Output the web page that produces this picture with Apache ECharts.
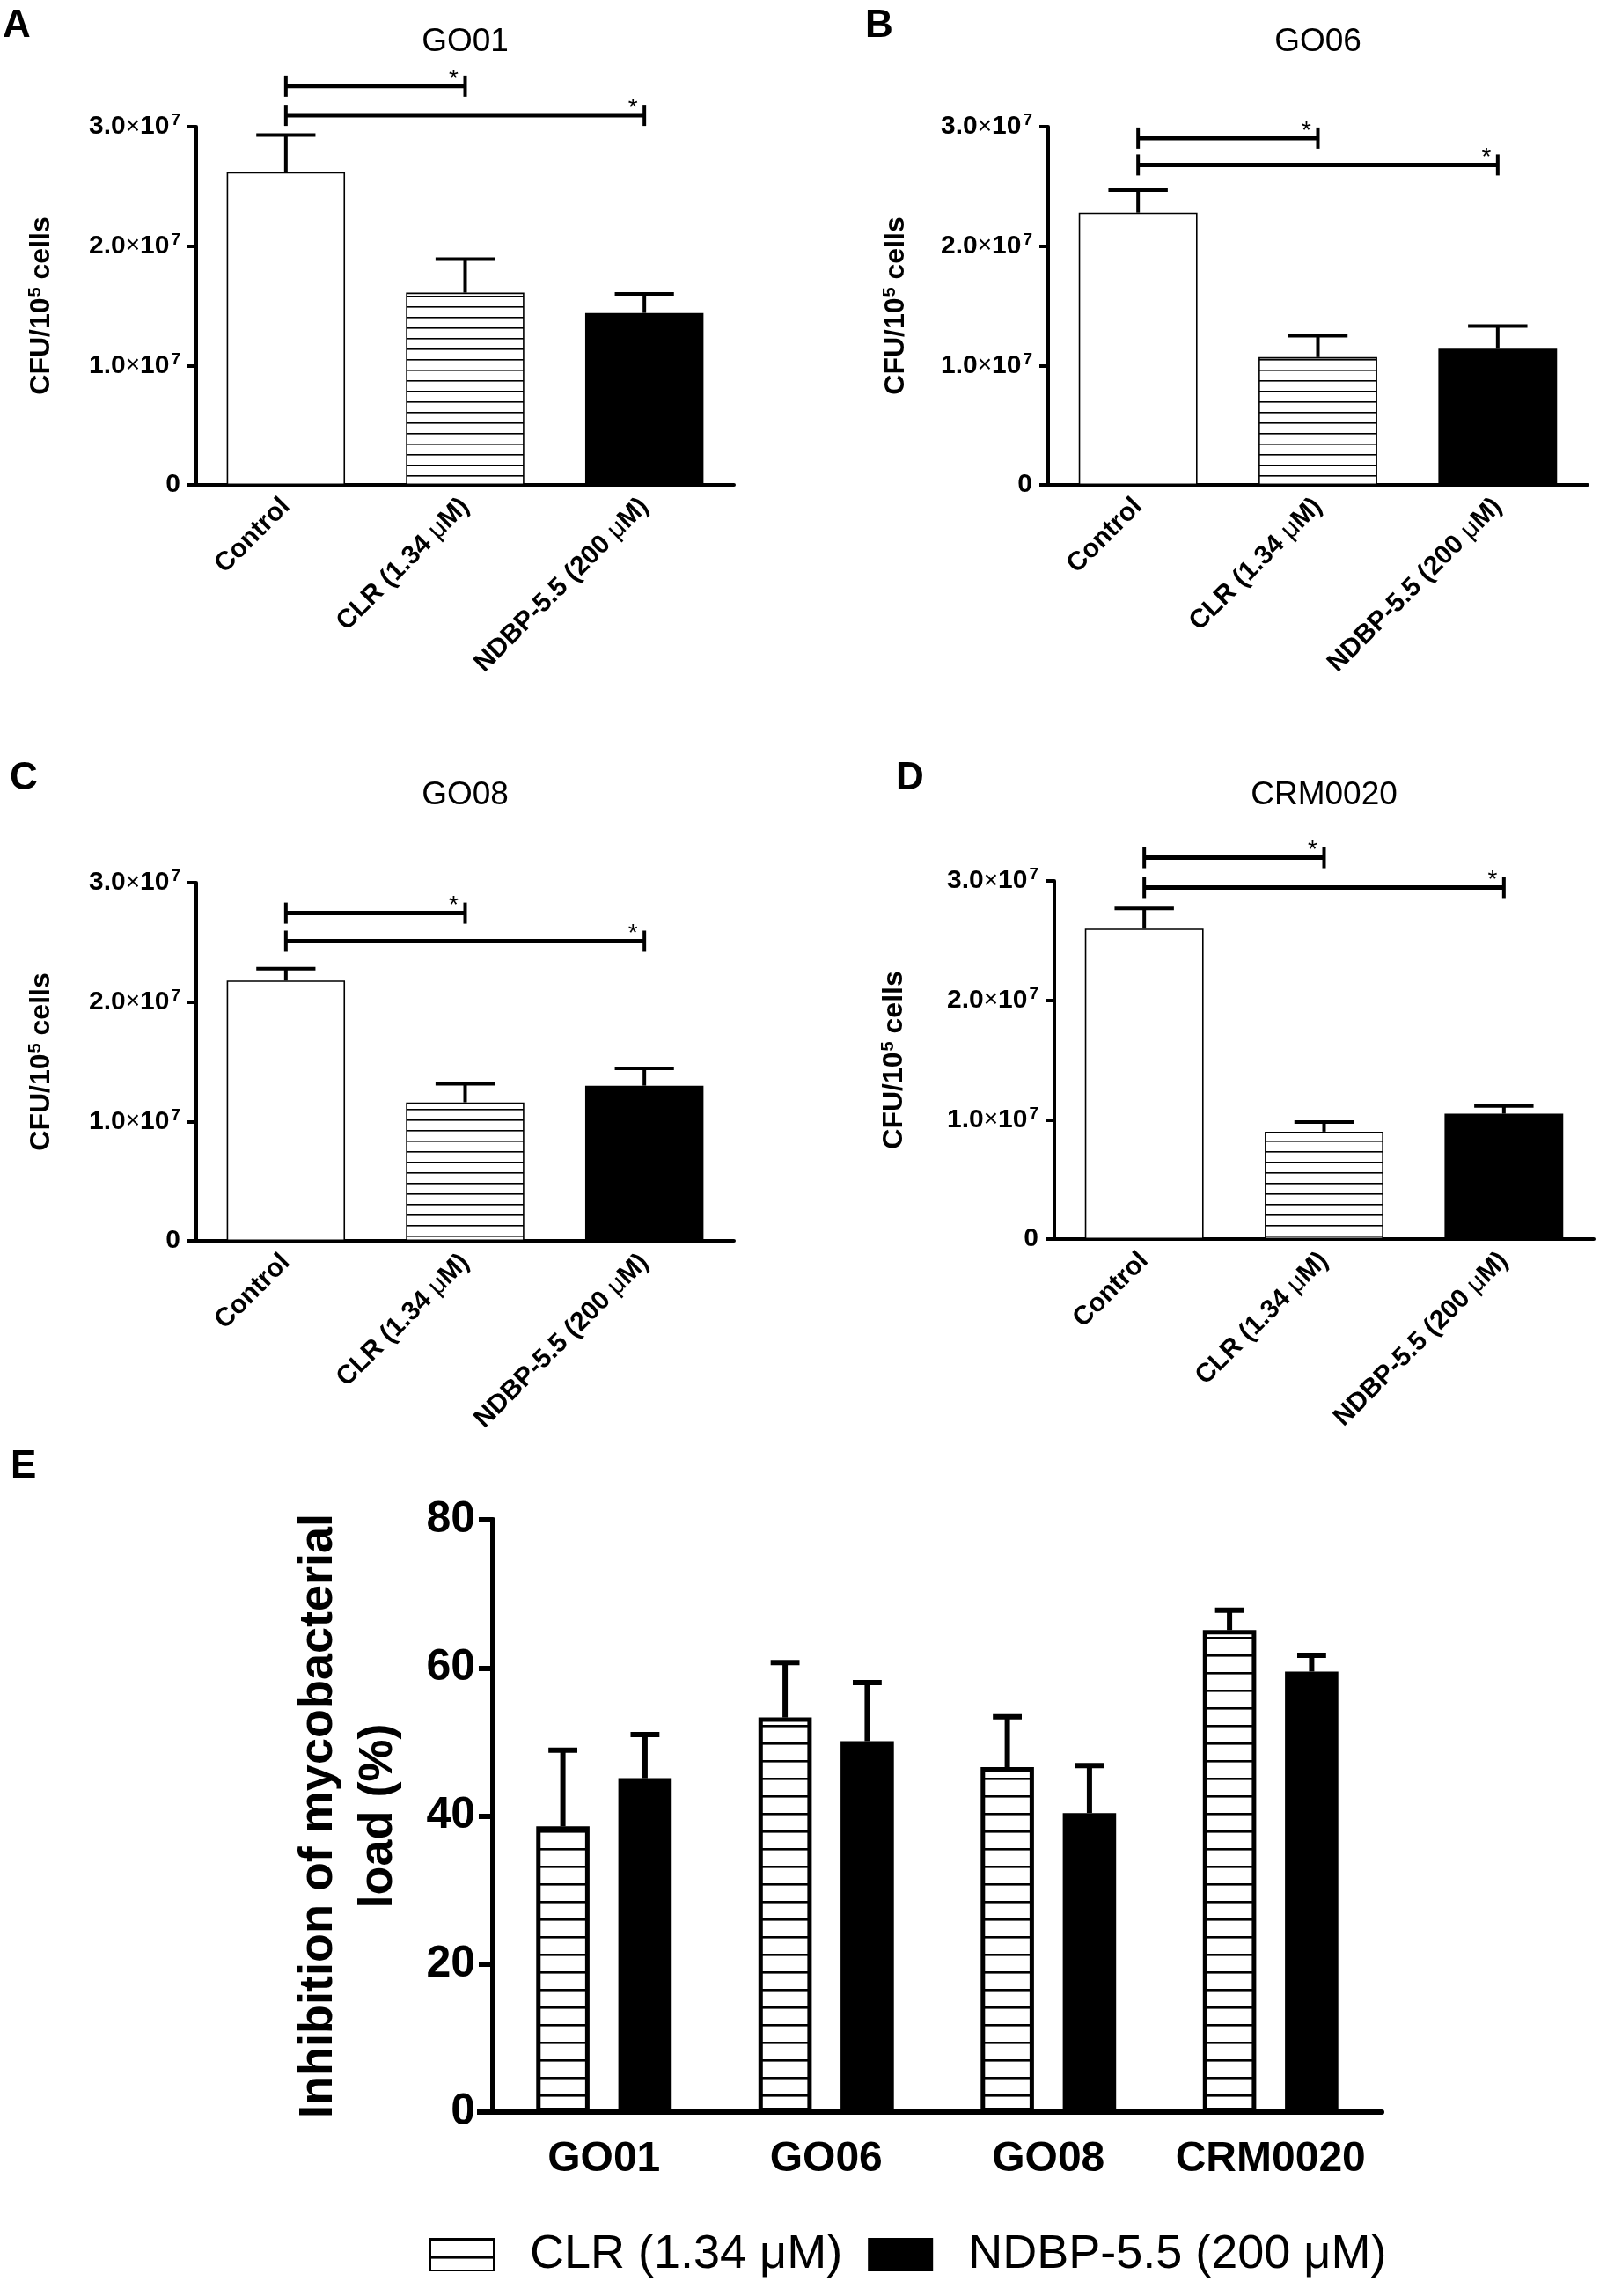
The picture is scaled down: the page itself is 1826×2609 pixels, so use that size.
<!DOCTYPE html>
<html>
<head>
<meta charset="utf-8">
<script src="https://cdn.jsdelivr.net/npm/echarts@6/dist/echarts.min.js"></script>
<style>
  html, body { margin: 0; padding: 0; background: #fff; }
  #main { width: 1826px; height: 2609px; }
</style>
</head>
<body>
<div id="main"></div>
<script>
// ---- data ----
var groups = ['Control', 'CLR (1.34 μM)', 'NDBP-5.5 (200 μM)'];
var strains = ['GO01', 'GO06', 'GO08', 'CRM0020'];
var comparisons = [[0, 1], [0, 2]];

// CFU / 10^5 cells (mean, upper SD), panels A-D
var go01Mean = [2.62e7, 1.61e7, 1.44e7];
var go01Err = [0.31e7, 0.28e7, 0.16e7];
var go06Mean = [2.28e7, 1.07e7, 1.14e7];
var go06Err = [0.19e7, 0.18e7, 0.19e7];
var go08Mean = [2.18e7, 1.16e7, 1.30e7];
var go08Err = [0.10e7, 0.155e7, 0.145e7];
var crmMean = [2.60e7, 0.90e7, 1.05e7];
var crmErr = [0.17e7, 0.08e7, 0.065e7];

// heights of the significance brackets (upper, lower)
var go01Sig = [3.34e7, 3.095e7];
var go06Sig = [2.905e7, 2.68e7];
var go08Sig = [2.745e7, 2.51e7];
var crmSig = [3.195e7, 2.945e7];

// panel E: inhibition of mycobacterial load (%)
var clrInhib = [38.6, 53.3, 46.6, 65.1];
var clrInhibErr = [10.3, 7.4, 6.8, 2.7];
var ndbpInhib = [45.1, 50.1, 40.4, 59.5];
var ndbpInhibErr = [5.9, 7.9, 6.4, 2.2];

// ---- layout ----
var FONT = '"Liberation Sans", Arial, sans-serif';
var panels = [
  { letter: 'A', title: 'GO01', mean: go01Mean, err: go01Err, sig: go01Sig,
    grid: { left: 223, top: 144, width: 611, height: 407 }, titleY: 48, letterPos: [3, 30], yNameX: 47 },
  { letter: 'B', title: 'GO06', mean: go06Mean, err: go06Err, sig: go06Sig,
    grid: { left: 1191, top: 144, width: 613, height: 407 }, titleY: 48, letterPos: [983, 30], yNameX: 1018 },
  { letter: 'C', title: 'GO08', mean: go08Mean, err: go08Err, sig: go08Sig,
    grid: { left: 223, top: 1003, width: 611, height: 407 }, titleY: 904, letterPos: [11, 885], yNameX: 47 },
  { letter: 'D', title: 'CRM0020', mean: crmMean, err: crmErr, sig: crmSig,
    grid: { left: 1198, top: 1001, width: 613, height: 407 }, titleY: 904, letterPos: [1018, 885], yNameX: 1016 }
];
var gridE = { left: 560, top: 1727, width: 1010, height: 673 };

function hatch(step, lw) {
  var c = document.createElement('canvas');
  c.width = 8; c.height = step;
  var g = c.getContext('2d');
  g.fillStyle = '#fff'; g.fillRect(0, 0, 8, step);
  g.fillStyle = '#000'; g.fillRect(0, 0, 8, lw);
  return { image: c, repeat: 'repeat' };
}

function errorBars(offset, capRatio, lw) {
  return function (params, api) {
    var i = api.value(0), v = api.value(1), e = api.value(2);
    var band = api.size([1, 0])[0];
    var p0 = api.coord([i, v]);
    var p1 = api.coord([i, v + e]);
    var cx = p0[0] + offset * band;
    var half = band * capRatio / 2;
    var st = { stroke: '#000', lineWidth: lw };
    return { type: 'group', children: [
      { type: 'line', shape: { x1: cx, y1: p0[1], x2: cx, y2: p1[1] }, style: st },
      { type: 'line', shape: { x1: cx - half, y1: p1[1], x2: cx + half, y2: p1[1] }, style: st }
    ] };
  };
}

function bracket(params, api) {
  var a = api.coord([api.value(0), api.value(2)]);
  var b = api.coord([api.value(1), api.value(2)]);
  var y = a[1];
  return { type: 'group', children: [
    { type: 'line', shape: { x1: a[0], y1: y, x2: b[0], y2: y }, style: { stroke: '#000', lineWidth: 5 } },
    { type: 'line', shape: { x1: a[0], y1: y - 12, x2: a[0], y2: y + 12 }, style: { stroke: '#000', lineWidth: 4 } },
    { type: 'line', shape: { x1: b[0], y1: y - 12, x2: b[0], y2: y + 12 }, style: { stroke: '#000', lineWidth: 4 } },
    { type: 'text', x: b[0] - 13, y: y - 8,
      style: { text: '*', font: '28px ' + FONT, fill: '#000', align: 'center', verticalAlign: 'middle' } }
  ] };
}

var grids = [], xAxes = [], yAxes = [], series = [], graphics = [];
var hatchAD = hatch(12, 1.6);

panels.forEach(function (p, k) {
  grids.push(Object.assign({ outerBoundsMode: 'none', containLabel: false }, p.grid));
  xAxes.push({
    type: 'category', gridIndex: k, data: groups,
    axisLine: { lineStyle: { color: '#000', width: 4 } },
    axisTick: { alignWithLabel: true, interval: 0, length: 12, lineStyle: { color: '#000', width: 4 } },
    axisLabel: {
      rotate: 45, interval: 0, margin: 20, color: '#000', fontFamily: FONT, fontWeight: 'bold', fontSize: 30,
      formatter: function (v) { return v.replace('μ', '{m|μ}'); },
      rich: { m: { fontWeight: 'normal', fontSize: 30, fontFamily: FONT, color: '#000' } }
    }
  });
  yAxes.push({
    type: 'value', gridIndex: k, min: 0, max: 3e7, interval: 1e7,
    splitLine: { show: false },
    axisLine: { show: true, lineStyle: { color: '#000', width: 4 } },
    axisTick: { show: true, length: 10, lineStyle: { color: '#000', width: 4 } },
    axisLabel: {
      margin: 18, color: '#000', fontFamily: FONT,
      formatter: function (v) {
        if (v === 0) return '{n|0}';
        return '{n|' + (v / 1e7).toFixed(1) + '}{x|×}{n|10}{s|7}';
      },
      rich: {
        n: { fontWeight: 'bold', fontSize: 30, fontFamily: FONT, color: '#000' },
        x: { fontWeight: 'normal', fontSize: 28, fontFamily: FONT, color: '#000' },
        s: { fontWeight: 'bold', fontSize: 19, fontFamily: FONT, color: '#000', padding: [0, 0, 14, 2] }
      }
    }
  });
  series.push({
    type: 'bar', name: p.title + ' CFU', xAxisIndex: k, yAxisIndex: k, barWidth: '66%',
    data: p.mean.map(function (v, i) {
      var fill = i === 0 ? '#fff' : (i === 1 ? hatchAD : '#000');
      return { value: v, itemStyle: { color: fill, borderColor: '#000', borderWidth: 1.6 } };
    })
  });
  series.push({
    type: 'custom', name: p.title + ' SD', xAxisIndex: k, yAxisIndex: k, clip: false, z: 3,
    renderItem: errorBars(0, 0.33, 4), encode: { x: 0, y: 1 },
    data: p.mean.map(function (v, i) { return [i, v, p.err[i]]; })
  });
  series.push({
    type: 'custom', name: p.title + ' sig', xAxisIndex: k, yAxisIndex: k, clip: false, z: 3,
    renderItem: bracket, encode: { x: [0, 1], y: 2 },
    data: comparisons.map(function (c, j) { return [c[0], c[1], p.sig[j]]; })
  });

  var g = p.grid;
  graphics.push({ type: 'text', x: g.left + g.width / 2, y: p.titleY,
    style: { text: p.title, font: '37px ' + FONT, fill: '#000', align: 'center', verticalAlign: 'middle' } });
  graphics.push({ type: 'text', x: p.letterPos[0], y: p.letterPos[1],
    style: { text: p.letter, font: 'bold 44px ' + FONT, fill: '#000', align: 'left', verticalAlign: 'middle' } });
  graphics.push({ type: 'text', x: p.yNameX, y: g.top + g.height / 2, rotation: Math.PI / 2,
    style: { text: '{b|CFU/10}{s|5}{b| cells}', align: 'center', verticalAlign: 'middle',
      rich: {
        b: { font: 'bold 32px ' + FONT, fill: '#000' },
        s: { font: 'bold 20px ' + FONT, fill: '#000', padding: [0, 0, 14, 1] }
      } } });
  graphics.push({ type: 'line', shape: { x1: g.left - 10, y1: g.top + g.height, x2: g.left, y2: g.top + g.height },
    style: { stroke: '#000', lineWidth: 4 } });
});

// ---- panel E ----
var kE = 4;
grids.push(Object.assign({ outerBoundsMode: 'none', containLabel: false }, gridE));
xAxes.push({
  type: 'category', gridIndex: kE, data: strains,
  axisLine: { lineStyle: { color: '#000', width: 6 } },
  axisTick: { alignWithLabel: true, interval: 0, length: 18, lineStyle: { color: '#000', width: 6 } },
  axisLabel: { interval: 0, margin: 30, color: '#000', fontFamily: FONT, fontWeight: 'bold', fontSize: 48 }
});
yAxes.push({
  type: 'value', gridIndex: kE, min: 0, max: 80, interval: 20,
  splitLine: { show: false },
  axisLine: { show: true, lineStyle: { color: '#000', width: 6 } },
  axisTick: { show: true, length: 16, lineStyle: { color: '#000', width: 6 } },
  axisLabel: { margin: 20, color: '#000', fontFamily: FONT, fontWeight: 'bold', fontSize: 50 }
});
var barW = 0.24, gapR = 0.54;
var offE = (barW + barW * gapR) / 2;
series.push({
  type: 'bar', name: 'CLR (1.34 μM)', xAxisIndex: kE, yAxisIndex: kE,
  barWidth: (barW * 100) + '%', barGap: (gapR * 100) + '%',
  itemStyle: { color: hatch(20, 2.6), borderColor: '#000', borderWidth: 5 },
  data: clrInhib
});
series.push({
  type: 'bar', name: 'NDBP-5.5 (200 μM)', xAxisIndex: kE, yAxisIndex: kE,
  barWidth: (barW * 100) + '%', barGap: (gapR * 100) + '%',
  itemStyle: { color: '#000', borderColor: '#000', borderWidth: 5 },
  data: ndbpInhib
});
series.push({
  type: 'custom', xAxisIndex: kE, yAxisIndex: kE, clip: false, z: 3,
  renderItem: errorBars(-offE, barW / 2 + 0.01, 6), encode: { x: 0, y: 1 },
  data: clrInhib.map(function (v, i) { return [i, v, clrInhibErr[i]]; })
});
series.push({
  type: 'custom', xAxisIndex: kE, yAxisIndex: kE, clip: false, z: 3,
  renderItem: errorBars(offE, barW / 2 + 0.01, 6), encode: { x: 0, y: 1 },
  data: ndbpInhib.map(function (v, i) { return [i, v, ndbpInhibErr[i]]; })
});
graphics.push({ type: 'text', x: 12, y: 1667,
  style: { text: 'E', font: 'bold 44px ' + FONT, fill: '#000', align: 'left', verticalAlign: 'middle' } });
graphics.push({ type: 'text', x: 396, y: gridE.top + gridE.height / 2, rotation: Math.PI / 2,
  style: { text: 'Inhibition of mycobacterial\nload (%)', font: 'bold 54px ' + FONT, lineHeight: 68,
    fill: '#000', align: 'center', verticalAlign: 'middle' } });
graphics.push({ type: 'line',
  shape: { x1: gridE.left - 18, y1: gridE.top + gridE.height, x2: gridE.left, y2: gridE.top + gridE.height },
  style: { stroke: '#000', lineWidth: 6 } });

var myChart = echarts.init(document.getElementById('main'));
myChart.setOption({
  backgroundColor: '#fff',
  animation: false,
  grid: grids,
  xAxis: xAxes,
  yAxis: yAxes,
  legend: {
    data: [{ name: 'CLR (1.34 μM)', icon: 'rect' }, { name: 'NDBP-5.5 (200 μM)', icon: 'rect' }],
    left: 483, top: 2530, itemWidth: 72, itemHeight: 36, itemGap: 29, selectedMode: false,
    textStyle: { fontFamily: FONT, fontSize: 54, color: '#000', lineHeight: 54, padding: [0, 0, 0, 36] }
  },
  graphic: graphics,
  series: series
});
</script>
</body>
</html>
